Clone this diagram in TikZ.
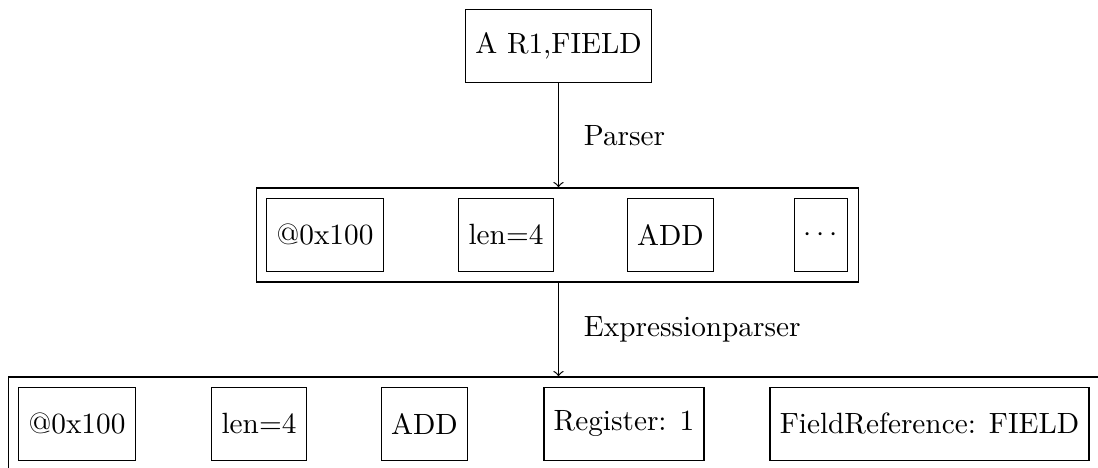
\documentclass[tikz,border=0pt]{standalone}
\usetikzlibrary{fit}

\begin{document}
\begin{tikzpicture}[
		box/.style={draw, minimum height=0.88cm},
		group/.style={draw, inner sep=3.33pt},
		stage/.style={midway, right, xshift=0.18cm}]
				\useasboundingbox (0,0) rectangle (13.176,-5.616);
				\clip (0,0) rectangle (13.176,-5.616);
				% source line
				\node[box] (src) at (6.702,-0.552) {A R1,FIELD};
				% tokens
				\node[box] (tok1) at (3.900,-2.820) {@0x100};
				\node[box] (tok2) at (6.072,-2.820) {len=4};
				\node[box] (tok3) at (8.046,-2.820) {ADD};
				\node[box] (tok4) at (9.852,-2.820) {$\cdots$};
				\node[group, fit=(tok1)(tok2)(tok3)(tok4)] (tokens) {};
				% expressions
				\node[box] (expr1) at (0.924,-5.088) {@0x100};
				\node[box] (expr2) at (3.108,-5.088) {len=4};
				\node[box] (expr3) at (5.094,-5.088) {ADD};
				\node[box] (expr4) at (7.488,-5.088) {Register: 1};
				\node[box] (expr5) at (11.154,-5.088) {FieldReference: FIELD};
				\node[group, fit=(expr1)(expr2)(expr3)(expr4)(expr5)] (exprs) {};
				\draw[->] (src) -- (src |- tokens.north) node[stage] {Parser};
				\draw[->] (src |- tokens.south) -- (src |- exprs.north) node[stage] {Expressionparser};
			\end{tikzpicture}
\end{document}
